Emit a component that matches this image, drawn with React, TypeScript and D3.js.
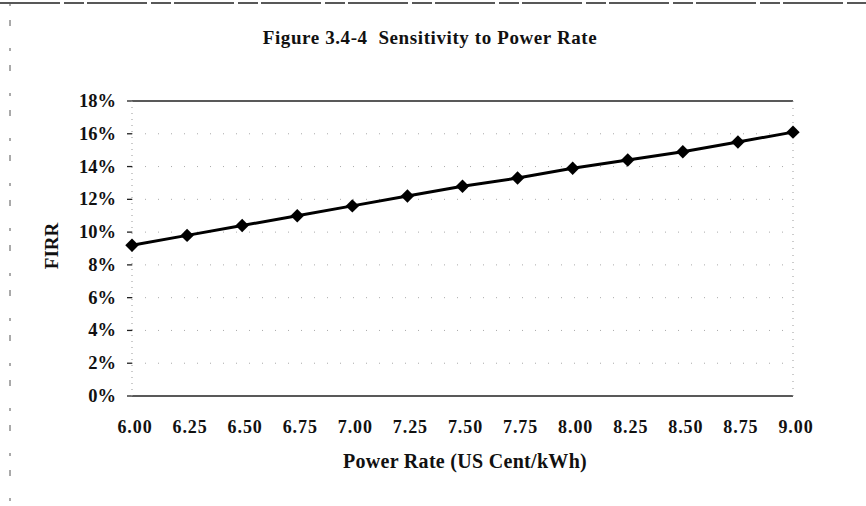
import React from 'react'
import * as d3 from 'd3'

// power rate (US cent/kWh) and resulting FIRR
const rates = [6.0, 6.25, 6.5, 6.75, 7.0, 7.25, 7.5, 7.75, 8.0, 8.25, 8.5, 8.75, 9.0]
const firr = [0.092, 0.098, 0.104, 0.110, 0.116, 0.122, 0.128, 0.133, 0.139, 0.144, 0.149, 0.155, 0.161]
const yTicks = [0, 0.02, 0.04, 0.06, 0.08, 0.1, 0.12, 0.14, 0.16, 0.18]

const W = 866
const H = 506
const font = '"Liberation Serif", "Times New Roman", serif'

const App = () => {
  let x = d3.scaleLinear().domain([6, 9]).range([132, 793])
  let y = d3.scaleLinear().domain([0, 0.18]).range([396, 101])

  let line = d3.line<number>()
    .x((d, i) => x(rates[i]))
    .y(d => y(d))

  let diamond = d3.symbol().type(d3.symbolDiamond2).size(115)

  return (
    <div>
      <style>{'body{margin:0}'}</style>
      <svg width={W} height={H} style={{ display: 'block', background: '#fff' }}>
        {/* scanned page border */}
        <line x1={0} x2={W} y1={3} y2={3} stroke="#222" strokeWidth={1.5} strokeDasharray="60 4 20 3" />
        <line x1={10} x2={10} y1={3} y2={H} stroke="#555" strokeWidth={1} strokeDasharray="3 14 6 22" />

        <text x={430} y={44} textAnchor="middle" fontFamily={font} fontWeight="bold"
          fontSize={19} letterSpacing={0.6} fill="#111">
          {'Figure 3.4-4\u00a0\u00a0Sensitivity to Power Rate'}
        </text>

        {/* grid */}
        {yTicks.map(t => (
          <g key={t}>
            <line x1={x(6)} x2={x(9)} y1={y(t)} y2={y(t)}
              stroke={t === 0 || t === 0.18 ? '#222' : '#aaa'}
              strokeWidth={t === 0 || t === 0.18 ? 1.3 : 1}
              strokeDasharray={t === 0 || t === 0.18 ? null : '1 12'} />
            <line x1={x(6) - 5} x2={x(6)} y1={y(t)} y2={y(t)} stroke="#222" strokeWidth={1.3} />
            <text x={116} y={y(t) + 6} textAnchor="end" fontFamily={font} fontWeight="bold"
              fontSize={18.5} fill="#111">
              {Math.round(t * 100) + '%'}
            </text>
          </g>
        ))}
        <line x1={x(6)} x2={x(6)} y1={y(0.18)} y2={y(0)} stroke="#999" strokeDasharray="1 5" />
        <line x1={x(9)} x2={x(9)} y1={y(0.18)} y2={y(0)} stroke="#999" strokeDasharray="1 6" />

        {rates.map(r => (
          <text key={r} x={x(r) + 3} y={433} textAnchor="middle" fontFamily={font} fontWeight="bold"
            fontSize={18} letterSpacing={0.9} fill="#111">
            {r.toFixed(2)}
          </text>
        ))}

        <text x={465} y={468} textAnchor="middle" fontFamily={font} fontWeight="bold"
          fontSize={20} letterSpacing={0.3} fill="#111">
          Power Rate (US Cent/kWh)
        </text>
        <text transform="translate(58,246) rotate(-90)" textAnchor="middle" fontFamily={font}
          fontWeight="bold" fontSize={19} fill="#111">
          FIRR
        </text>

        <path d={line(firr) || ''} fill="none" stroke="#000" strokeWidth={3} />
        {firr.map((v, i) => (
          <path key={i} d={diamond() || ''} transform={`translate(${x(rates[i])},${y(v)})`} fill="#000" />
        ))}
      </svg>
    </div>
  )
}

export default App
